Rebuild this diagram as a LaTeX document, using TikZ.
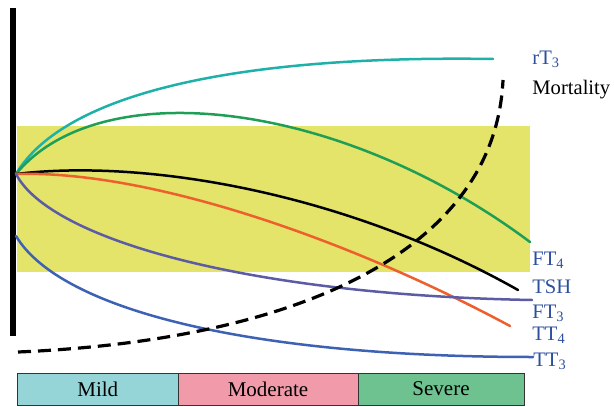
\documentclass[tikz,border=0pt]{standalone}
\usepackage{fontspec}
\setmainfont{Liberation Serif}
\definecolor{cteal}{HTML}{1FB0A8}
\definecolor{cgreen}{HTML}{1F9E55}
\definecolor{corange}{HTML}{EE5F2E}
\definecolor{cpurple}{HTML}{5B5BA6}
\definecolor{cblue}{HTML}{3D62B4}
\definecolor{clabel}{HTML}{2D4F9E}
\definecolor{cyellow}{HTML}{E4E36A}
\definecolor{cmild}{HTML}{95D5D8}
\definecolor{cmod}{HTML}{F19BAA}
\definecolor{csev}{HTML}{6DC28F}
\begin{document}
\begin{tikzpicture}[x=0.5pt,y=-0.5pt,
  curve/.style={line width=1.25pt, line cap=round},
  lab/.style={anchor=base west, inner sep=0pt, text=clabel, font=\fontsize{10.3}{12}\selectfont},
  stage/.style={draw=black!80, line width=0.5pt, minimum height=16pt, inner sep=0pt, font=\fontsize{10.5}{12}\selectfont}]
\useasboundingbox (0,0) rectangle (614,406);
% normal range band
\fill[cyellow] (17,126) rectangle (530,272);
% axis bar
\fill[black] (10,8) rectangle (16,336);
% named points
\coordinate (o) at (16,174);
\coordinate (rtEnd) at (493,59);
\coordinate (ftfEnd) at (530,242);
\coordinate (tshEnd) at (518,290);
\coordinate (ttfEnd) at (510,326);
\coordinate (ftthStart) at (16,174);
\coordinate (ftthEnd) at (532,300);
\coordinate (ttthStart) at (16,236);
\coordinate (ttthEnd) at (533,357);
\coordinate (mStart) at (18,352);
\coordinate (mEnd) at (503,80);
% curves
\draw[curve, cteal] (o) .. controls (65,92) and (240,55) .. (rtEnd);
\draw[curve, cgreen] (o) .. controls (100,72) and (340,100) .. (ftfEnd);
\draw[curve, black] (o) .. controls (150,158) and (350,195) .. (tshEnd);
\draw[curve, corange] (o) .. controls (150,170) and (350,240) .. (ttfEnd);
\draw[curve, cpurple] (ftthStart) .. controls (50,240) and (250,295) .. (ftthEnd);
\draw[curve, cblue] (ttthStart) .. controls (60,310) and (250,357) .. (ttthEnd);
\draw[line width=1.6pt, dash pattern=on 6.5pt off 3.5pt] (mStart) .. controls (300,340) and (495,250) .. (mEnd);
% labels
\node[lab] (lrt) at (532,64.3) {rT\textsubscript{3}};
\node[lab, text=black] (lmort) at (532,95) {Mortality};
\node[lab] (lft4) at (532,265) {FT\textsubscript{4}};
\node[lab] (ltsh) at (532,293) {TSH};
\node[lab] (lft3) at (532,318) {FT\textsubscript{3}};
\node[lab] (ltt4) at (532,340) {TT\textsubscript{4}};
\node[lab] (ltt3) at (533,366) {TT\textsubscript{3}};
% severity bar
\node[stage, fill=cmild, minimum width=80.25pt] (mild) at (97.75,389) {Mild};
\node[stage, fill=cmod, minimum width=90pt] (moderate) at (268,389) {Moderate};
\node[stage, fill=csev, minimum width=83pt] (severe) at (441,389) {Severe};
\end{tikzpicture}
\end{document}
